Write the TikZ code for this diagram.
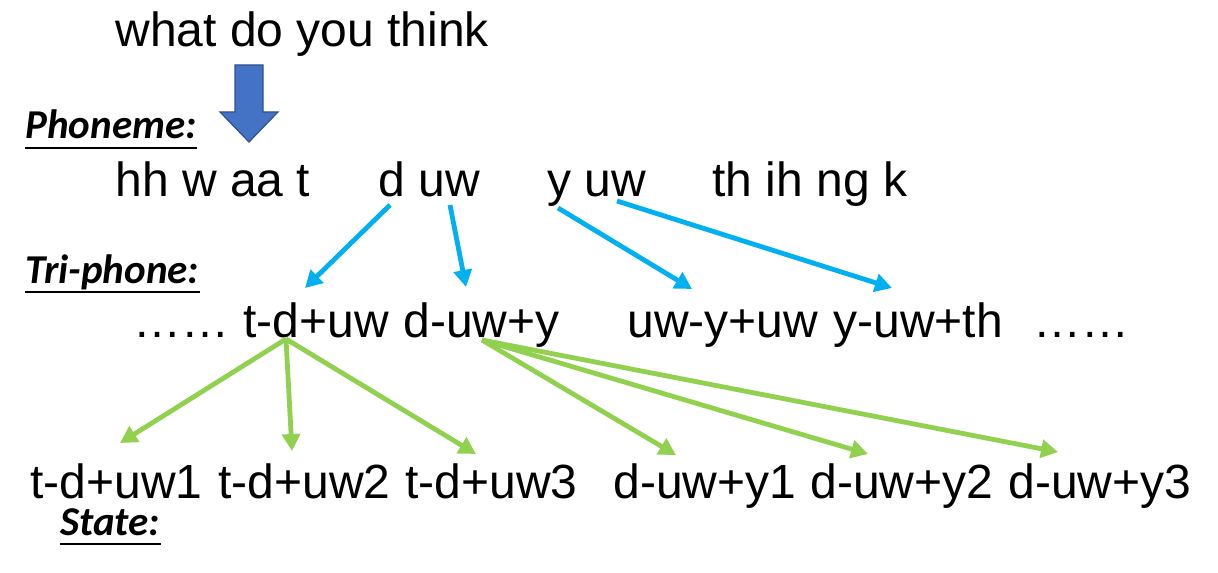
\documentclass[tikz,border=0pt]{standalone}
\usepackage{fontspec}
\setmainfont{Liberation Sans}
\newfontfamily\levelfont{Carlito}
\usetikzlibrary{arrows.meta}

\definecolor{phoneblue}{HTML}{00B0F0}
\definecolor{stategreen}{HTML}{92D050}
\definecolor{blockblue}{HTML}{4472C4}
\definecolor{blockedge}{HTML}{2F528F}

\begin{document}
\begin{tikzpicture}[x=0.5pt,y=-0.5pt,
    word/.style={inner sep=0pt,anchor=base west,font=\fontsize{24}{28}\selectfont},
    level/.style={inner sep=0pt,anchor=base west,font=\levelfont\bfseries\itshape\fontsize{20.5}{24}\selectfont},
    tolink/.style={line width=2.4pt,-{Triangle[length=8.5pt,width=9pt]}}]
  \useasboundingbox (0,0) rectangle (1218,572);
  % sentence and the big arrow below it
  \node[word] (sent) at (115,47) {what do you think};
  \filldraw[fill=blockblue,draw=blockedge,line width=0.6pt]
    (235,65) -- (263,65) -- (263,112) -- (278,112) -- (249,142) -- (220,112) -- (235,112) -- cycle;
  % level labels, underlined
  \foreach \name/\x/\y/\txt in {ph/25/139/Phoneme:, tri/25/283/Tri-phone:, st/60/535/State:} {
    \node[level] (\name) at (\x,\y) {\txt};
    \draw[line width=0.8pt] ([yshift=-4.5pt]\name.base west) -- ([yshift=-4.5pt]\name.base east);
  }
  % phonemes
  \foreach \name/\x/\txt in {p1/115/hh w aa t, p2/378/d uw, p3/547/y uw, p4/712/th ih ng k}
    \node[word] (\name) at (\x,197) {\txt};
  % tri-phones
  \foreach \name/\x/\txt in {t0/133/……, t1/243/t-d+uw, t2/403/d-uw+y, t3/627/uw-y+uw, t4/833/y-uw+th, t5/1033/……}
    \node[word] (\name) at (\x,337) {\txt};
  % states
  \foreach \name/\x/\txt in {s1/30/t-d+uw1, s2/218/t-d+uw2, s3/405/t-d+uw3, s4/613/d-uw+y1, s5/810/d-uw+y2, s6/1008/d-uw+y3}
    \node[word] (\name) at (\x,498) {\txt};
  % phoneme -> tri-phone
  \foreach \from/\fx/\fy/\to/\tx/\ty in {p2/12/8/t1/62/-49, p2/72/8/t2/63/-50, p3/11/11/t3/65/-48, p3/70/4/t4/59/-49}
    \draw[tolink,phoneblue] ([shift={(\fx,\fy)}]\from.base west) -- ([shift={(\tx,\ty)}]\to.base west);
  % tri-phone -> state
  \foreach \from/\fx/\fy/\to/\tx/\ty in {t1/43/2/s1/90/-55, t1/43/2/s2/74/-47, t1/43/2/s3/71/-44,
      t2/79/3/s4/63/-43, t2/79/3/s5/58/-44, t2/79/3/s6/50/-46}
    \draw[tolink,stategreen] ([shift={(\fx,\fy)}]\from.base west) -- ([shift={(\tx,\ty)}]\to.base west);
\end{tikzpicture}
\end{document}
